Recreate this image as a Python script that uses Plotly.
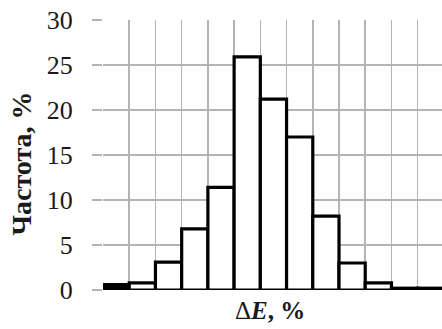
import plotly.graph_objects as go

bins = list(range(13))
freq = [0.6, 0.8, 3.1, 6.8, 11.4, 25.9, 21.2, 17.0, 8.2, 3.0, 0.8, 0.2, 0.2]
y_ticks = [0, 5, 10, 15, 20, 25, 30]
x_title = "Δ<b><i>E</i>, %</b>"
y_title = "<b>Частота, %</b>"

W, H = 442, 329
ml, mr, mt, mb = 103.3, 0, 19.6, 38.5
pw = W - ml - mr
ph = H - mt - mb

fills = ["black"] + ["white"] * (len(bins) - 1)

fig = go.Figure()
fig.add_trace(go.Bar(
    x=bins, y=freq, width=1,
    marker=dict(color=fills, line=dict(color="black", width=3.2)),
))

grid = "#b4b4b4"
serif = "Liberation Serif"
fig.update_layout(
    width=W, height=H,
    margin=dict(l=ml, r=mr, t=mt, b=mb, pad=0),
    plot_bgcolor="white", paper_bgcolor="white",
    showlegend=False, bargap=0,
    font=dict(family=serif, color="#1a1a1a"),
    xaxis=dict(
        range=[-0.5, -0.5 + pw / 26.2],
        tickvals=[b - 0.5 for b in bins] + [bins[-1] + 0.5],
        showticklabels=False, ticks="",
        showgrid=True, gridcolor=grid, gridwidth=1.5,
        zeroline=False, showline=False,
    ),
    yaxis=dict(
        range=[0, 30], tickvals=y_ticks,
        showgrid=True, gridcolor=grid, gridwidth=1.5,
        ticks="outside", ticklen=10, tickcolor=grid, tickwidth=1.5,
        ticklabelstandoff=14,
        tickfont=dict(family=serif, size=26, color="#1a1a1a"),
        zeroline=False, showline=False,
    ),
    annotations=[
        dict(text=x_title, xref="paper", yref="paper",
             x=(270 - ml) / pw, y=-(311 - (H - mb)) / ph,
             xanchor="center", yanchor="middle", showarrow=False,
             font=dict(family=serif, size=25, color="#1a1a1a")),
        dict(text=y_title, xref="paper", yref="paper",
             x=(22 - ml) / pw, y=((H - mb) - 164) / ph,
             xanchor="center", yanchor="middle", showarrow=False, textangle=-90,
             font=dict(family=serif, size=28, color="#1a1a1a")),
    ],
)

fig.write_html(
    "out.html",
    config={"displayModeBar": False, "staticPlot": True},
    post_script="document.body.style.margin='0';document.body.style.overflow='hidden';",
)
